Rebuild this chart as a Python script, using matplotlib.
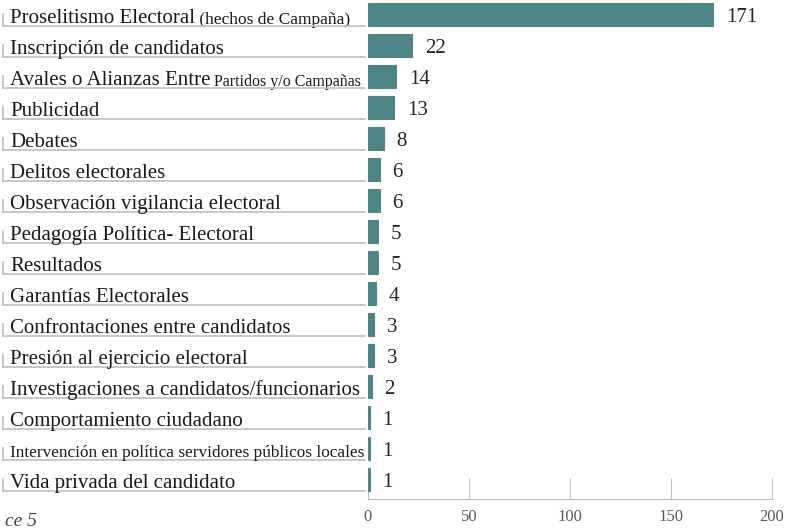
import matplotlib.pyplot as plt
import matplotlib.transforms as mtransforms

plt.rcParams['font.family'] = ['Liberation Serif', 'DejaVu Serif']

# label = (main text, small trailing text)
labels_main = ['Proselitismo Electoral', 'Inscripción de candidatos',
               'Avales o Alianzas Entre', 'Publicidad', 'Debates',
               'Delitos electorales', 'Observación vigilancia electoral',
               'Pedagogía Política- Electoral', 'Resultados',
               'Garantías Electorales', 'Confrontaciones entre candidatos',
               'Presión al ejercicio electoral',
               'Investigaciones a candidatos/funcionarios',
               'Comportamiento ciudadano',
               'Intervención en política servidores públicos locales',
               'Vida privada del candidato']
labels_small = ['(hechos de Campaña)', '', 'Partidos y/o Campañas', '', '', '',
                '', '', '', '', '', '', '', '', '', '']
values = [171, 22, 14, 13, 8, 6, 6, 5, 5, 4, 3, 3, 2, 1, 1, 1]
xticks = [0, 50, 100, 150, 200]

W, H = 785, 531
fig = plt.figure(figsize=(W / 100, H / 100), dpi=100)
ax = fig.add_axes([368 / W, 1 - 499 / H, (772 - 368) / W, 499 / H])

n = len(values)
ypos = list(range(n))
ax.barh(ypos, values, height=0.72, color='#4E8687', edgecolor='#4E8687',
        linewidth=0.8, zorder=3)
ax.set_ylim(n - 0.37, -0.47)
ax.set_xlim(0, 200)
ax.set_xticks(xticks)
ax.set_yticks([])
ax.tick_params(axis='x', direction='in', length=15, color='#BFBFBF',
               labelsize=12, labelcolor='#595959', pad=7)
for s in ['top', 'right', 'left']:
    ax.spines[s].set_visible(False)
ax.spines['bottom'].set_color('#BFBFBF')

for y, v in zip(ypos, values):
    ax.annotate(str(v), (v, y), xytext=(9, -2), textcoords='offset points',
                va='center', ha='left', fontsize=15, color='#262626')

# category labels with a bracket line under each one
tr = mtransforms.blended_transform_factory(fig.transFigure, ax.transData)
for y, main, small in zip(ypos, labels_main, labels_small):
    fs = 12.4 if main.startswith('Intervención') else 15
    t = fig.text(10 / W, y + 0.27, main, transform=tr, fontsize=fs,
                 va='baseline', ha='left', color='#1A1A1A')
    if small:
        sfs = 12.5 if small.startswith('(') else 11.5
        ax.annotate(' ' + small, xy=(1, 0), xycoords=t, va='bottom',
                    ha='left', fontsize=sfs, color='#1A1A1A',
                    annotation_clip=False)
    fig.add_artist(plt.Line2D([3 / W, 365 / W], [y + 0.37, y + 0.37],
                              transform=tr, color='#BFBFBF', lw=1.2))
    fig.add_artist(plt.Line2D([3 / W, 3 / W], [y + 0.37, y - 0.02],
                              transform=tr, color='#BFBFBF', lw=1.2))

fig.text(5 / W, 0.01, 'ce 5', fontsize=14, style='italic',
         color='#404040', va='baseline')

fig.savefig('out.png', dpi=100)
